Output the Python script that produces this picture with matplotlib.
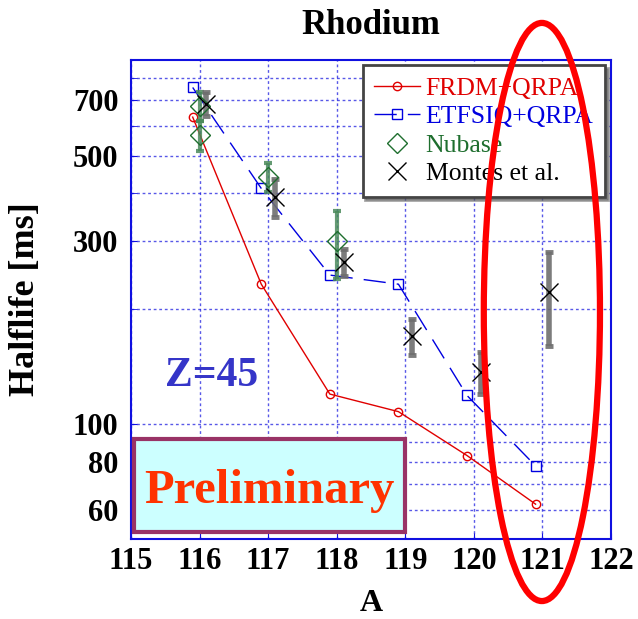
import matplotlib
matplotlib.use("Agg")
import matplotlib.pyplot as plt
from matplotlib.patches import Ellipse, Rectangle
from matplotlib.ticker import FixedLocator, FixedFormatter, NullFormatter

# theory curves
A_theory = [115.9, 116.9, 117.9, 118.9, 119.9, 120.9]
frdm_qrpa = [632, 232, 120, 108, 83, 62]
etfsiq_qrpa = [755, 412, 245, 232, 119, 78]

# Nubase (two entries at A=116)
A_nubase = [116.0, 116.0, 117.0, 118.0]
t_nubase = [675, 566, 441, 300]
err_nubase = [58, 50, 38, 60]

# Montes et al.
A_montes = [116.1, 117.1, 118.1, 119.1, 120.1, 121.1]
t_montes = [685, 392, 265, 170, 137, 221]
err_montes = [50, 45, 22, 18, 17, 61]

y_major = [60, 80, 100, 300, 500, 700]
y_minor = [70, 90, 200, 400, 600, 800]
x_ticks = [115, 116, 117, 118, 119, 120, 121, 122]

plt.rcParams['font.family'] = ['Liberation Serif', 'DejaVu Serif']

fig = plt.figure(figsize=(6.38, 6.19), dpi=100)
ax = fig.add_axes([0.2053, 0.1292, 0.7524, 0.7738])

ax.plot(A_theory, frdm_qrpa, color="#e00000", lw=1.0, marker='o', ms=6,
        mfc='none', mec="#e00000", mew=1.0, label="FRDM+QRPA", zorder=3)
ax.plot(A_theory, etfsiq_qrpa, color="#0000e0", lw=1.0, ls=(0, (16, 8)),
        marker='s', ms=6.5, mfc='none', mec="#0000e0", mew=1.0,
        label="ETFSIQ+QRPA", zorder=3)

ax.errorbar(A_nubase, t_nubase, yerr=err_nubase, fmt='none', ecolor="#4a8a5a",
            elinewidth=3, capsize=2.6, capthick=3, alpha=0.85, zorder=4)
ax.plot(A_nubase, t_nubase, ls='none', marker='D', ms=10, mfc='none',
        mec="#1e6e2e", mew=1.0, label="Nubase", zorder=5)

ax.errorbar(A_montes, t_montes, yerr=err_montes, fmt='none', ecolor="#6e6e6e",
            elinewidth=4, capsize=3.2, capthick=3.5, alpha=0.9, zorder=4)
ax.plot(A_montes, t_montes, ls='none', marker='x', ms=13, mec="black",
        mew=1.0, label="Montes et al.", zorder=6)

ax.set_yscale("log")
ax.set_xlim(115, 122)
ax.set_ylim(50.3, 890)
ax.set_xticks(x_ticks)
ax.yaxis.set_major_locator(FixedLocator(y_major))
ax.yaxis.set_minor_locator(FixedLocator(y_minor))
ax.yaxis.set_major_formatter(FixedFormatter([str(v) for v in y_major]))
ax.yaxis.set_minor_formatter(NullFormatter())
ax.xaxis.set_minor_locator(FixedLocator([]))

ax.grid(True, which="both", color="#2020e0", ls=(0, (2, 2)), lw=1.0, alpha=0.75)
ax.set_axisbelow(True)
for s in ax.spines.values():
    s.set_color("#1010e0")
    s.set_linewidth(1.5)
ax.tick_params(which="both", direction="in", color="#1010e0", length=4,
               labelsize=22, pad=6)
ax.tick_params(axis='y', pad=9)
for lab in ax.get_xticklabels() + ax.get_yticklabels():
    lab.set_fontweight("bold")

ax.set_title("Rhodium", fontsize=25, fontweight="bold", pad=19)
ax.set_xlabel("A", fontsize=23, fontweight="bold")
ax.xaxis.set_label_coords(0.5, -0.105)
ax.xaxis.label.set_va("top")
ax.set_ylabel("Halflife [ms]", fontsize=26, fontweight="bold")
ax.yaxis.set_label_coords(-0.185, 0.5)

leg = ax.legend(loc="upper right", bbox_to_anchor=(0.9875, 0.9896),
                borderaxespad=0, fontsize=18.5, frameon=True, fancybox=False,
                shadow=True, framealpha=1, edgecolor="#444444",
                labelspacing=0.22, handlelength=1.8, handletextpad=0.2,
                borderpad=0.45)
leg.get_frame().set_linewidth(2)
for txt, c in zip(leg.get_texts(), ["#e00000", "#0000e0", "#1e6e2e", "black"]):
    txt.set_color(c)

ax.text(0.168, 0.341, "Z=45", transform=ax.transAxes, fontsize=30,
        fontweight="bold", color="#3535c8", ha="center", va="center", zorder=6)

ax.add_patch(Rectangle((0.007, 0.014), 0.563, 0.194, transform=ax.transAxes,
                       facecolor="#ccffff", edgecolor="#993366", lw=3,
                       zorder=7))
ax.text(0.2875, 0.075, "Preliminary", transform=ax.transAxes, fontsize=35,
        fontweight="bold", color="#ff3300", ha="center", va="baseline",
        zorder=8)

ax.add_patch(Ellipse((0.856, 0.474), 0.242, 1.207, transform=ax.transAxes,
                     facecolor="none", edgecolor="#ff0000", lw=4.5,
                     clip_on=False, zorder=10))

fig.savefig("out.png", dpi=100)
plt.close(fig)
